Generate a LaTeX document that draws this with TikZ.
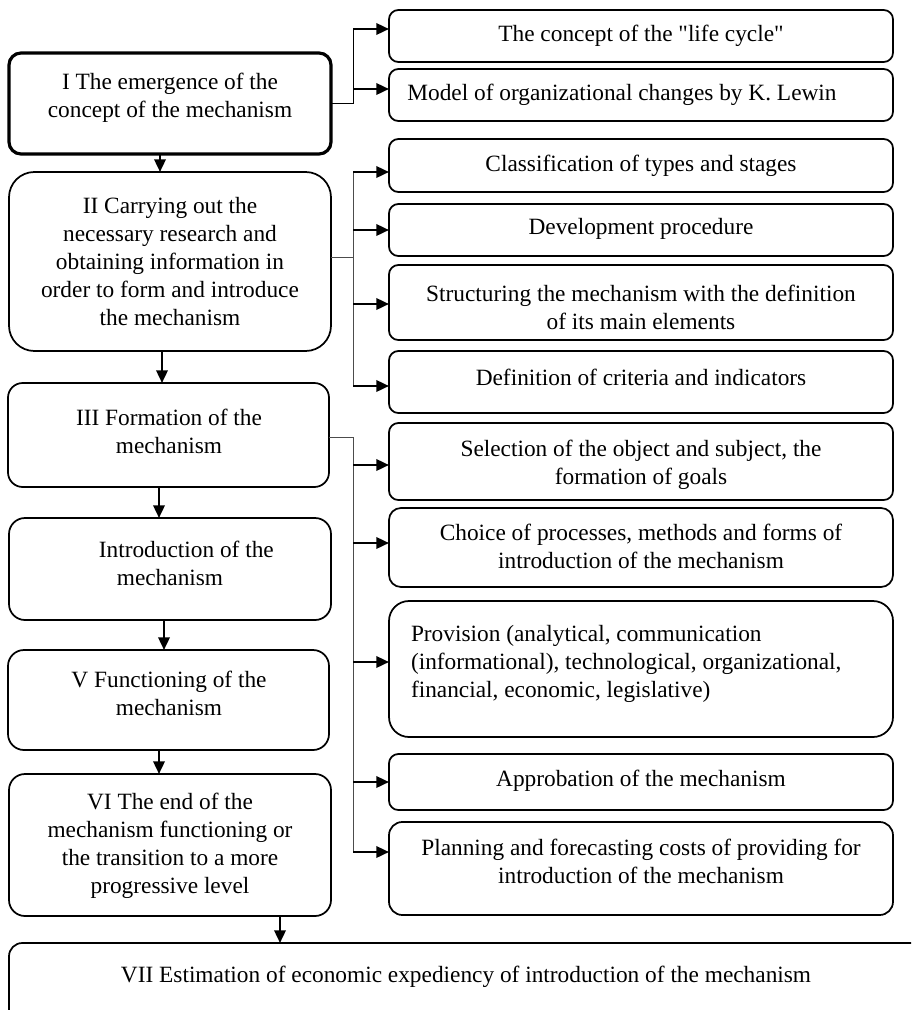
\documentclass[tikz,border=0pt]{standalone}
\usepackage{fontspec}
\setmainfont{Liberation Serif}
\newfontfamily\plainq{Liberation Serif}
\usetikzlibrary{arrows.meta,fit}
\begin{document}
\begin{tikzpicture}[x=0.75pt,y=-0.75pt,
  every node/.style={font=\fontsize{17.5}{21}\selectfont, inner sep=0pt, outer sep=0pt},
  box/.style={draw, line width=1.3pt, inner sep=0pt, outer sep=0pt},
  rbox/.style={box, rounded corners=7pt},
  txt/.style={align=center},
  arr/.style={line width=1.8pt, -{Triangle[length=9.5pt,width=8.5pt]}},
  conn/.style={line width=0.75pt},
  gconn/.style={line width=0.75pt, draw=black!70}
]
\clip (0,0) rectangle (911,1010);

% left column boxes
\node[box, line width=2.4pt, rounded corners=9pt, fit={(9,53) (331,154)}] (I) {};
\node[box, rounded corners=19pt, fit={(9,172) (331,351)}] (II) {};
\node[box, rounded corners=11pt, fit={(8,383) (329,487)}] (III) {};
\node[box, rounded corners=12pt, fit={(9,518) (331,620)}] (IV) {};
\node[box, rounded corners=12pt, fit={(8,650) (329,750)}] (V) {};
\node[box, rounded corners=12pt, fit={(9,774) (331,916)}] (VI) {};
\node[box, rounded corners=10pt, fit={(9,943) (935,1050)}] (VII) {};

\node[txt] (It) at (170,98) {I The emergence of the\\concept of the mechanism};
\node[txt] (IIt) at (170,262) {II Carrying out the\\necessary research and\\obtaining information in\\order to form and introduce\\the mechanism};
\node[txt] (IIIt) at (169,431) {III Formation of the\\mechanism};
\node[txt] (IVt) at (170,563) {\hspace*{1.4em}Introduction of the\\mechanism};
\node[txt] (Vt) at (169,693) {V Functioning of the\\mechanism};
\node[txt] (VIt) at (170,846) {VI The end of the\\mechanism functioning or\\the transition to a more\\progressive level};
\node[txt] (VIIt) at (466,977) {VII Estimation of economic expediency of introduction of the mechanism};

% right column boxes
\node[rbox, fit={(389,10) (893,62)}] (r1) {};
\node[rbox, fit={(389,69) (893,121)}] (r2) {};
\node[rbox, fit={(389,139) (893,192)}] (r3) {};
\node[rbox, fit={(389,204) (893,256)}] (r4) {};
\node[rbox, fit={(389,265) (893,340)}] (r5) {};
\node[rbox, fit={(389,351) (893,413)}] (r6) {};
\node[rbox, fit={(389,423) (893,500)}] (r7) {};
\node[rbox, rounded corners=9pt, fit={(389,508) (893,587)}] (r8) {};
\node[rbox, rounded corners=15pt, fit={(389,601) (893,737)}] (r9) {};
\node[rbox, fit={(389,754) (893,810)}] (r10) {};
\node[rbox, rounded corners=10pt, fit={(389,822) (893,915)}] (r11) {};

\node[txt] (r1t) at (641,36) {The concept of the {\plainq"}life cycle{\plainq"}};
\node[txt] (r2t) at (622,95) {Model of organizational changes by K. Lewin};
\node[txt] (r3t) at (641,166) {Classification of types and stages};
\node[txt] (r4t) at (641,229) {Development procedure};
\node[txt] (r5t) at (641,307) {Structuring the mechanism with the definition\\of its main elements};
\node[txt] (r6t) at (641,377) {Definition of criteria and indicators};
\node[txt] (r7t) at (641,465) {Selection of the object and subject, the\\formation of goals};
\node[txt] (r8t) at (641,546) {Choice of processes, methods and forms of\\introduction of the mechanism};
\node[align=left, anchor=west] (r9t) at (411,664) {Provision (analytical, communication\\(informational), technological, organizational,\\financial, economic, legislative)};
\node[txt] (r10t) at (641,781) {Approbation of the mechanism};
\node[txt] (r11t) at (641,861) {Planning and forecasting costs of providing for\\introduction of the mechanism};

% vertical flow arrows
\coordinate (xa) at (160,0);
\coordinate (xb) at (162,0);
\coordinate (xc) at (159,0);
\coordinate (xd) at (164,0);
\coordinate (xe) at (159,0);
\coordinate (xf) at (280,0);
\draw[arr] (I.south -| xa) -- (II.north -| xa);
\draw[arr] (II.south -| xb) -- (III.north -| xb);
\draw[arr] (III.south -| xc) -- (IV.north -| xc);
\draw[arr] (IV.south -| xd) -- (V.north -| xd);
\draw[arr] (V.south -| xe) -- (VI.north -| xe);
\draw[arr] (VI.south -| xf) -- (VII.north -| xf);

% branch from I
\coordinate (j0) at (353,103.5);
\coordinate (j1) at (353,29);
\coordinate (j2) at (353,89);
\draw[conn] (I.east) -- (j0);
\draw[conn] (j1) -- (j0);
\draw[arr] (j1) -- (j1 -| r1.west);
\draw[arr] (j2) -- (j2 -| r2.west);

% branch from II
\coordinate (k0) at (353,257);
\coordinate (k1) at (353,172);
\coordinate (k2) at (353,230);
\coordinate (k3) at (353,304);
\coordinate (k4) at (353,386);
\draw[gconn] (II.east |- k0) -- (k0);
\draw[gconn] (k1) -- (k4);
\draw[arr] (k1) -- (k1 -| r3.west);
\draw[arr] (k2) -- (k2 -| r4.west);
\draw[arr] (k3) -- (k3 -| r5.west);
\draw[arr] (k4) -- (k4 -| r6.west);

% branch from III
\coordinate (m0) at (353,437);
\coordinate (m1) at (353,465);
\coordinate (m2) at (353,543);
\coordinate (m3) at (353,662);
\coordinate (m4) at (353,782);
\coordinate (m5) at (353,852);
\draw[gconn] (III.east |- m0) -- (m0);
\draw[gconn] (m0) -- (m5);
\draw[arr] (m1) -- (m1 -| r7.west);
\draw[arr] (m2) -- (m2 -| r8.west);
\draw[arr] (m3) -- (m3 -| r9.west);
\draw[arr] (m4) -- (m4 -| r10.west);
\draw[arr] (m5) -- (m5 -| r11.west);
\end{tikzpicture}
\end{document}
